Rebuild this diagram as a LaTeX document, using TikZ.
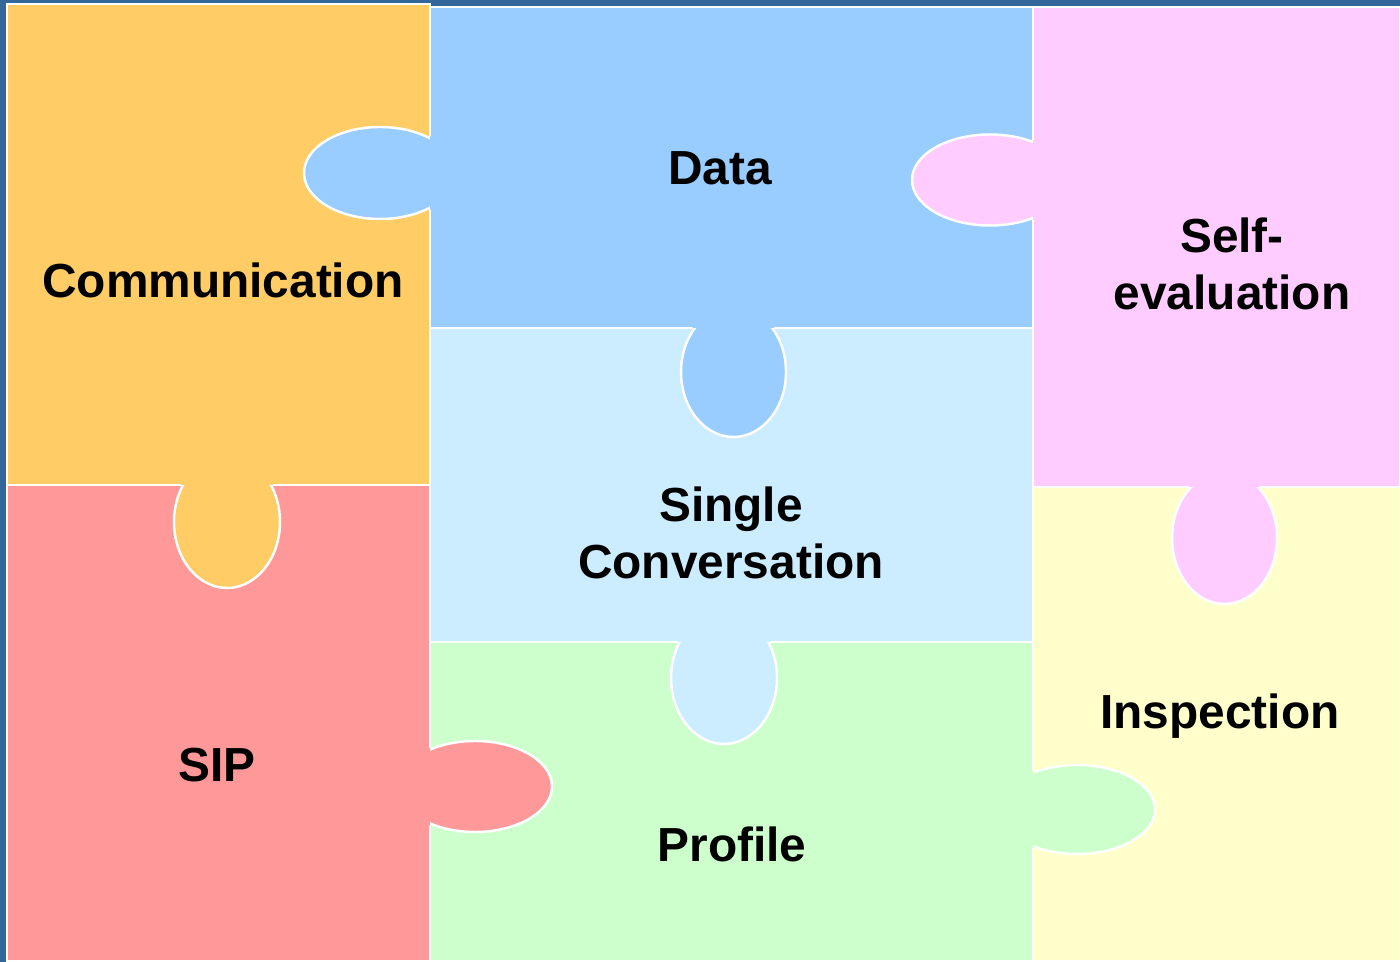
\documentclass[tikz,border=0pt]{standalone}
\usepackage{fontspec}
\setmainfont{Liberation Sans}
\usepackage{tikz}

\definecolor{bgblue}{HTML}{336699}
\definecolor{commcol}{HTML}{FFCC66}
\definecolor{datacol}{HTML}{99CCFF}
\definecolor{selfcol}{HTML}{FFCCFF}
\definecolor{singlecol}{HTML}{CCECFF}
\definecolor{sipcol}{HTML}{FF9999}
\definecolor{profcol}{HTML}{CCFFCC}
\definecolor{inspcol}{HTML}{FFFFCC}

\begin{document}
\begin{tikzpicture}[x=0.01cm,y=-0.01cm,
	piece/.style={draw=white,line width=0.6pt},
	tab/.style={draw=white,line width=0.7pt},
	label/.style={font=\fontsize{13.6}{16.2}\selectfont\bfseries,align=center,inner sep=0pt}]
	\useasboundingbox (0,0) rectangle (1400,962);
	\fill[bgblue] (0,0) rectangle (1400,962);
	%% pieces
	\filldraw[piece,fill=commcol] (7,4) rectangle (430,485);
	\filldraw[piece,fill=datacol] (430,7) rectangle (1033,328);
	\filldraw[piece,fill=selfcol] (1033,7) rectangle (1400,487);
	\filldraw[piece,fill=singlecol] (430,328) rectangle (1033,642);
	\filldraw[piece,fill=sipcol] (7,485) rectangle (430,961);
	\filldraw[piece,fill=profcol] (430,642) rectangle (1033,961);
	\filldraw[piece,fill=inspcol] (1033,487) rectangle (1400,961);
	%% tabs: colour / centre / radii / owner piece
	\foreach \col/\cx/\cy/\rx/\ry/\xa/\ya/\xb/\yb in {
		datacol/380/173/76/46/430/7/1033/328,
		selfcol/990/180/78/45.5/1033/7/1400/487,
		datacol/733.5/372/52.5/65/430/7/1033/328,
		commcol/227/522/53/66/7/4/430/485,
		selfcol/1224.5/538/52.5/66/1033/7/1400/487,
		singlecol/724/678/53/66/430/328/1033/642,
		sipcol/475/786.5/77/45.5/7/485/430/961,
		profcol/1077/809.5/78/44.5/430/642/1033/961}{
		\filldraw[tab,fill=\col] (\cx,\cy) ellipse [x radius=\rx,y radius=\ry];
		\begin{scope}
			\clip (\xa,\ya) rectangle (\xb,\yb);
			\fill[\col] (\cx,\cy) ellipse [x radius=\rx+2,y radius=\ry+2];
		\end{scope}
	}
	%% labels
	\node[label,anchor=base] (comm) at (223,298) {Communication};
	\node[label,anchor=base] (data) at (720,185) {Data};
	\node[label] (self) at (1232,264) {Self-\\evaluation};
	\node[label] (single) at (731,533) {Single\\Conversation};
	\node[label,anchor=base] (sip) at (217,782) {SIP};
	\node[label,anchor=base] (prof) at (732,862) {Profile};
	\node[label,anchor=base] (insp) at (1220,729) {Inspection};
\end{tikzpicture}
\end{document}
